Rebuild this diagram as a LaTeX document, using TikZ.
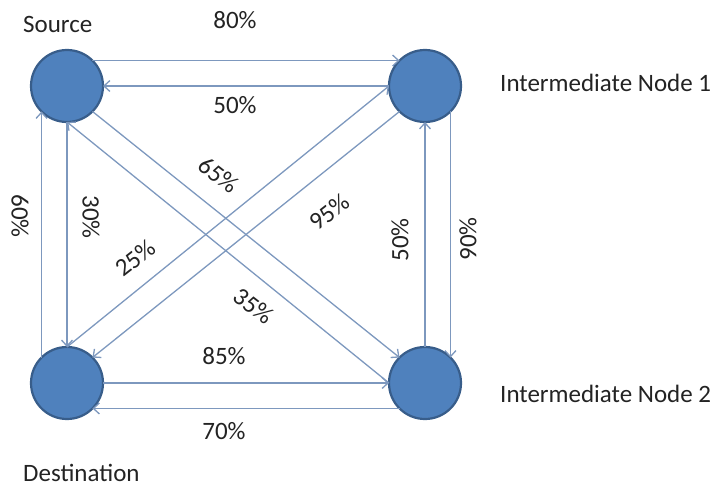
\documentclass[tikz,border=0pt]{standalone}
\usepackage{fontspec}
\setmainfont{Carlito}
\usetikzlibrary{arrows.meta}
\definecolor{nodefill}{HTML}{4F81BD}
\definecolor{nodeedge}{HTML}{385D8A}
\definecolor{linkcol}{RGB}{125,152,190}
\definecolor{txt}{RGB}{35,35,35}

\begin{document}
\begin{tikzpicture}[x=1pt,y=-1pt,
  station/.style={circle, fill=nodefill, draw=nodeedge, line width=2.2pt,
    minimum size=72pt, inner sep=0pt, outer sep=0pt},
  link/.style={draw=linkcol, line width=1.3pt,
    -{Straight Barb[length=6pt,width=11pt]}},
  lbl/.style={font=\fontsize{25}{28}\selectfont, text=txt, inner sep=0pt},
]
\useasboundingbox (0,0) rectangle (717,487);

% the four stations
\node[station] (S)  at (67,86)   {};
\node[station] (I1) at (425,86)  {};
\node[station] (D)  at (67,383)  {};
\node[station] (I2) at (425,383) {};

% station names
\node[lbl, anchor=base west] (tS)  at (23,33)   {Source};
\node[lbl, anchor=base west] (tI1) at (500,92)  {Intermediate Node 1};
\node[lbl, anchor=base west] (tI2) at (500,402) {Intermediate Node 2};
\node[lbl, anchor=base west] (tD)  at (23,481)  {Destination};

% links between stations
\draw[link] (S.45)    -- (I1.135);
\draw[link] (I1.180)  -- (S.0);
\draw[link] (D.0)     -- (I2.180);
\draw[link] (I2.-135) -- (D.-45);
\draw[link] (D.135)   -- (S.-135);
\draw[link] (S.-90)   -- (D.90);
\draw[link] (I2.90)   -- (I1.-90);
\draw[link] (I1.-45)  -- (I2.45);
\draw[link] (S.-45)   -- (I2.135);
\draw[link] (I2.180)  -- (S.-90);
\draw[link] (D.90)    -- (I1.180);
\draw[link] (I1.-135) -- (D.45);

% link probabilities
\node[lbl, anchor=base] (p80) at (235,29)  {80\%};
\node[lbl, anchor=base] (p50a) at (235,113) {50\%};
\node[lbl, anchor=base] (p85) at (224,364) {85\%};
\node[lbl, anchor=base] (p70) at (224,439) {70\%};
\node[lbl, rotate=-90] (p60) at (20,216)  {60\%};
\node[lbl, rotate=-90] (p30) at (91,217)  {30\%};
\node[lbl, rotate=90]  (p50b) at (400,240) {50\%};
\node[lbl, rotate=90]  (p90) at (468,239) {90\%};
\node[lbl, rotate=-38] (p65) at (219,175) {65\%};
\node[lbl, rotate=-38] (p35) at (254,306) {35\%};
\node[lbl, rotate=38]  (p25) at (135,258) {25\%};
\node[lbl, rotate=38]  (p95) at (329,212) {95\%};
\end{tikzpicture}
\end{document}
